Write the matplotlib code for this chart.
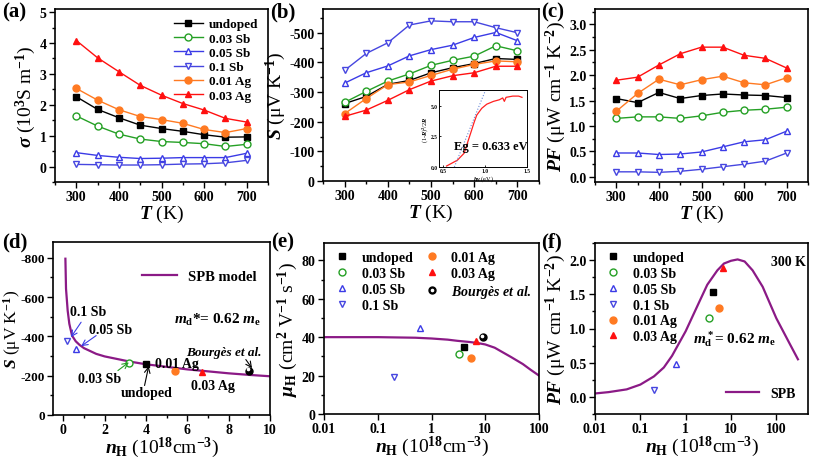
import matplotlib.pyplot as plt
import numpy as np
from matplotlib.ticker import MultipleLocator, FixedLocator, NullLocator

plt.rcParams['font.family'] = 'Liberation Serif'
plt.rcParams['font.weight'] = 'bold'
plt.rcParams['mathtext.fontset'] = 'custom'
plt.rcParams['mathtext.rm'] = 'Liberation Serif:bold'
plt.rcParams['mathtext.it'] = 'Liberation Serif:italic:bold'
plt.rcParams['mathtext.bf'] = 'Liberation Serif:bold'
plt.rcParams['axes.unicode_minus'] = False
plt.rcParams['axes.linewidth'] = 1.2

# samples
names = ['undoped', '0.03 Sb', '0.05 Sb', '0.1 Sb', '0.01 Ag', '0.03 Ag']
colors = ['black', '#25a025', '#3b3be6', '#4646e0', '#ff7a22', '#ff1010']
markers = ['s', 'o', '^', 'v', 'o', '^']
filled = [True, False, False, False, True, True]

temps = [300, 350, 400, 450, 500, 550, 600, 650, 700]
sigma = [
    [2.26, 1.85, 1.58, 1.34, 1.23, 1.14, 1.03, 0.95, 0.96],
    [1.64, 1.31, 1.05, 0.89, 0.81, 0.78, 0.74, 0.65, 0.72],
    [0.45, 0.36, 0.30, 0.26, 0.27, 0.29, 0.29, 0.29, 0.43],
    [0.07, 0.06, 0.05, 0.05, 0.06, 0.08, 0.09, 0.12, 0.20],
    [2.53, 2.15, 1.84, 1.62, 1.52, 1.40, 1.20, 1.10, 1.23],
    [4.08, 3.52, 3.07, 2.63, 2.31, 2.04, 1.83, 1.56, 1.44],
]
seebeck = [
    [-261, -285, -326, -339, -365, -382, -396, -413, -410],
    [-265, -302, -337, -361, -390, -407, -421, -456, -439],
    [-330, -365, -388, -422, -443, -458, -484, -501, -473],
    [-373, -430, -466, -526, -540, -537, -537, -517, -500],
    [-227, -278, -325, -334, -356, -377, -393, -405, -402],
    [-218, -239, -272, -308, -337, -355, -365, -387, -387],
]
pf = [
    [1.54, 1.46, 1.66, 1.54, 1.60, 1.63, 1.61, 1.60, 1.56],
    [1.15, 1.18, 1.18, 1.15, 1.20, 1.27, 1.31, 1.33, 1.37],
    [0.47, 0.47, 0.44, 0.45, 0.49, 0.59, 0.69, 0.73, 0.90],
    [0.10, 0.10, 0.09, 0.11, 0.15, 0.20, 0.25, 0.31, 0.47],
    [1.29, 1.64, 1.92, 1.81, 1.91, 1.98, 1.85, 1.81, 1.95],
    [1.90, 1.96, 2.20, 2.42, 2.55, 2.55, 2.39, 2.33, 2.14],
]

# inset of (b): absorption
hv = [0.54, 0.60, 0.67, 0.75, 0.79, 0.83, 0.87, 0.90, 0.96, 1.02, 1.10, 1.17,
      1.21, 1.23, 1.25, 1.33, 1.40, 1.44]
absorb = [0.08, 0.30, 0.56, 1.13, 1.98, 2.82, 3.67, 4.24, 4.80, 5.14, 5.37, 5.50,
          5.65, 5.37, 5.70, 5.80, 5.80, 5.70]
eg_x = [0.633, 1.0]
eg_y = [0.0, 6.2]

# 300 K room-temperature data
n_h = [4.0, 3.2, 0.6, 0.2, 5.4, 6.7]
s_300 = [-260, -264, -335, -376, -226, -218]
mu_h = [34.8, 31.3, 44.9, 19.2, 29.2, 37.9]
pf_300 = [1.54, 1.15, 0.48, 0.10, 1.30, 1.89]
bourges_n = 9.0
bourges_s = -226
bourges_mu = 40.0

# SPB model curves
spb_n_s = [0.1, 0.13, 0.21, 0.29, 0.42, 0.6, 0.78, 1.0, 1.59, 2.0, 3.2, 4.0, 5.0,
           6.0, 7.0, 8.0, 9.0, 10.0]
spb_s = [-795, -642, -531, -464, -404, -375, -357, -340, -311, -298, -272, -258,
         -245, -232, -222, -212, -204, -197]
spb_n_mu = [0.01, 0.1, 0.5, 1, 2, 3, 5, 7, 10, 15, 20, 30, 50, 70, 100]
spb_mu = [40.0, 40.0, 39.7, 39.3, 38.7, 38.1, 37.5, 37.0, 36.2, 34.5, 32.5, 29.7,
          26.0, 23.0, 20.0]
spb_n_pf = [0.01, 0.02, 0.05, 0.1, 0.2, 0.33, 0.5, 1, 2, 3, 5, 7, 10, 14, 20, 30,
            50, 100, 200, 300]
spb_pf = [0.05, 0.07, 0.11, 0.18, 0.30, 0.43, 0.60, 0.96, 1.39, 1.64, 1.85, 1.95,
          1.99, 2.01, 1.98, 1.85, 1.61, 1.15, 0.77, 0.55]

spb_color = '#8b1a86'
fs_tick = 10
fs_lab = 14
ms = 5

fig = plt.figure(figsize=(8.13, 4.60), dpi=100)
W, H = 813.0, 460.0


def make_ax(x0, x1, y0, y1):
    return fig.add_axes([x0 / W, 1 - y1 / H, (x1 - x0) / W, (y1 - y0) / H])


def style(ax):
    ax.tick_params(which='both', direction='out', top=False, right=False,
                   labelsize=fs_tick, width=1.0, pad=2)
    ax.tick_params(which='major', length=4)
    ax.tick_params(which='minor', length=2.2)
    for lab in ax.get_xticklabels() + ax.get_yticklabels():
        lab.set_fontweight('bold')


def mstyle(i):
    return dict(color=colors[i], marker=markers[i], markersize=ms,
                markerfacecolor=colors[i] if filled[i] else 'white',
                markeredgecolor=colors[i], markeredgewidth=1.0)


def arrow(ax, start, end, color):
    ax.annotate('', xy=end, xytext=start,
                arrowprops=dict(arrowstyle='->', color=color, lw=0.8,
                                shrinkA=0, shrinkB=0))


tlabel = r'$T$ (K)'

# (a)
ax = make_ax(55, 268, 10, 183)
for i in range(6):
    ax.plot(temps, sigma[i], lw=1.0, label=names[i], **mstyle(i))
ax.set_xlim(250, 750)
ax.set_ylim(-0.5, 5.1)
ax.xaxis.set_major_locator(MultipleLocator(100))
ax.xaxis.set_minor_locator(MultipleLocator(50))
ax.yaxis.set_major_locator(MultipleLocator(1))
ax.yaxis.set_minor_locator(MultipleLocator(0.5))
ax.set_xlabel(tlabel, fontsize=fs_lab, labelpad=0)
ax.set_ylabel(r'$\sigma$ (10$^3$S m$^{-1}$)', fontsize=fs_lab, labelpad=1)
ax.legend(loc='upper right', frameon=False, handlelength=2.2,
          labelspacing=0.15, borderaxespad=0.3, handletextpad=0.5,
          prop={'weight': 'bold', 'size': 9.5})
style(ax)

# (b)
ax = make_ax(323, 539, 10, 182)
for i in range(6):
    ax.plot(temps, seebeck[i], lw=1.0, **mstyle(i))
ax.set_xlim(250, 750)
ax.set_ylim(0, -580)
ax.xaxis.set_major_locator(MultipleLocator(100))
ax.xaxis.set_minor_locator(MultipleLocator(50))
ax.yaxis.set_major_locator(MultipleLocator(100))
ax.yaxis.set_minor_locator(MultipleLocator(50))
ax.set_xlabel(tlabel, fontsize=fs_lab, labelpad=0)
ax.set_ylabel(r'$S$ (μV K$^{-1}$)', fontsize=fs_lab, labelpad=1)
style(ax)

ins = make_ax(439, 527, 91, 168)
ins.plot(hv, absorb, color='#ff2020', lw=0.9)
ins.plot(eg_x, eg_y, color='#6a8ad8', lw=0.8, ls=':')
ins.set_xlim(0.45, 1.5)
ins.set_ylim(0, 6.3)
ins.xaxis.set_major_locator(FixedLocator([0.5, 1.0, 1.5]))
ins.yaxis.set_major_locator(FixedLocator([0.0, 2.5, 5.0]))
ins.set_xticklabels(['0.5', '1.0', '1.5'])
ins.set_yticklabels(['0.0', '2.5', '5.0'])
ins.tick_params(labelsize=4, length=1.5, width=0.6, direction='in', pad=1)
for sp in ins.spines.values():
    sp.set_linewidth(0.7)
ins.set_xlabel(r'$h\nu$ (eV)', fontsize=4.5, labelpad=0)
ins.set_ylabel(r'(1-$R$)$^2$/2$R$', fontsize=4.5, labelpad=0)
ins.text(1.07, 1.75, 'Eg = 0.633 eV', fontsize=9, fontweight='bold',
         ha='center', va='center')

# (c)
ax = make_ax(595, 808, 10, 183)
for i in range(6):
    ax.plot(temps, pf[i], lw=1.0, **mstyle(i))
ax.set_xlim(250, 750)
ax.set_ylim(-0.1, 3.3)
ax.xaxis.set_major_locator(MultipleLocator(100))
ax.xaxis.set_minor_locator(MultipleLocator(50))
ax.yaxis.set_major_locator(MultipleLocator(0.5))
ax.yaxis.set_minor_locator(MultipleLocator(0.25))
ax.yaxis.set_major_formatter(plt.FormatStrFormatter('%.1f'))
ax.set_xlabel(tlabel, fontsize=fs_lab, labelpad=0)
ax.set_ylabel(r'$PF$ (μW cm$^{-1}$ K$^{-2}$)', fontsize=fs_lab, labelpad=1)
style(ax)

nlabel = r'$n_\mathrm{H}$ (10$^{18}$cm$^{-3}$)'

# (d)
ax = make_ax(53, 270, 243, 416)
ax.plot(spb_n_s, spb_s, color=spb_color, lw=1.6, label='SPB model')
for i in range(6):
    ax.plot([n_h[i]], [s_300[i]], ls='none', **mstyle(i))
ax.plot([bourges_n], [bourges_s], ls='none', marker='o', color='black', ms=ms)
ax.plot([bourges_n - 0.08], [bourges_s - 8], ls='none', marker='o', color='white', ms=1.6)
ax.set_xlim(-0.5, 10)
ax.set_ylim(0, -880)
ax.xaxis.set_major_locator(MultipleLocator(2))
ax.xaxis.set_minor_locator(MultipleLocator(1))
ax.yaxis.set_major_locator(MultipleLocator(200))
ax.yaxis.set_minor_locator(MultipleLocator(100))
ax.set_xlabel(nlabel, fontsize=fs_lab, labelpad=-1)
ax.set_ylabel(r'$S$ (μV K$^{-1}$)', fontsize=12.5)
ax.yaxis.set_label_coords(-0.14, 0.5)
ax.legend(loc='center right', bbox_to_anchor=(1.0, 0.80), frameon=False,
          handlelength=2.4, prop={'weight': 'bold', 'size': 10.5})
ax.text(0.76, 0.555, r'$m_\mathrm{d}$*= 0.62 $m_\mathrm{e}$', transform=ax.transAxes,
        fontsize=11, ha='center', va='center')
fsd = 10
ax.text(1.18, -528, '0.1 Sb', fontsize=fsd, ha='center', va='center')
arrow(ax, (0.86, -472), (0.37, -396), '#3b3be6')
ax.text(2.28, -435, '0.05 Sb', fontsize=fsd, ha='center', va='center')
arrow(ax, (1.59, -404), (0.86, -350), '#3b3be6')
ax.text(1.75, -187, '0.03 Sb', fontsize=fsd, ha='center', va='center')
arrow(ax, (2.64, -226), (3.17, -268), '#25a025')
ax.text(4.01, -116, 'undoped', fontsize=fsd, ha='center', va='center')
arrow(ax, (3.93, -150), (4.13, -248), 'black')
ax.text(5.5, -262, '0.01 Ag', fontsize=fsd, ha='center', va='center')
ax.text(7.25, -150, '0.03 Ag', fontsize=fsd, ha='center', va='center')
ax.text(7.75, -318, 'Bourgès et al.', fontsize=9.5, ha='center', va='center',
        style='italic')
arrow(ax, (8.83, -282), (9.13, -238), 'black')
style(ax)
ax.tick_params(axis='y', labelsize=9.5, pad=1.5)

# (e)
ax = make_ax(324, 539, 244, 415)
ax.plot(spb_n_mu, spb_mu, color=spb_color, lw=1.6)
hands = []
for i in range(6):
    h, = ax.plot([n_h[i]], [mu_h[i]], ls='none', label=names[i], **mstyle(i))
    hands.append(h)
hb, = ax.plot([bourges_n], [bourges_mu], ls='none', marker='o', color='black', ms=ms)
hw, = ax.plot([bourges_n * 0.97], [bourges_mu + 0.6], ls='none', marker='o', color='white', ms=1.6)
ax.set_xscale('log')
ax.set_xlim(0.01, 100)
ax.set_ylim(0, 89)
ax.xaxis.set_major_locator(FixedLocator([0.01, 0.1, 1, 10, 100]))
ax.xaxis.set_minor_locator(NullLocator())
ax.set_xticklabels(['0.01', '0.1', '1', '10', '100'])
ax.yaxis.set_major_locator(MultipleLocator(20))
ax.yaxis.set_minor_locator(MultipleLocator(10))
ax.set_xlabel(nlabel, fontsize=fs_lab, labelpad=-1)
ax.set_ylabel(r'$\mu_\mathrm{H}$ (cm$^2$ V$^{-1}$ s$^{-1}$)', fontsize=fs_lab, labelpad=1)
leg_h = hands + [(hb, hw)]
leg_l = names + [r'$Bourgès\ et\ al.$']
ax.legend(leg_h, leg_l, loc='upper left', ncol=2, frameon=False, handlelength=0.8,
          handletextpad=1.0, columnspacing=0.9, labelspacing=0.2,
          borderaxespad=0.2, bbox_to_anchor=(0.02, 1.0),
          prop={'weight': 'bold', 'size': 10})
style(ax)

# (f)
ax = make_ax(595, 808, 244, 415)
hs, = ax.plot(spb_n_pf, spb_pf, color=spb_color, lw=1.6, label='SPB')
hands = []
for i in range(6):
    h, = ax.plot([n_h[i]], [pf_300[i]], ls='none', label=names[i], **mstyle(i))
    hands.append(h)
ax.set_xscale('log')
ax.set_xlim(0.01, 500)
ax.set_ylim(-0.25, 2.25)
ax.xaxis.set_major_locator(FixedLocator([0.01, 0.1, 1, 10, 100]))
ax.xaxis.set_minor_locator(NullLocator())
ax.set_xticklabels(['0.01', '0.1', '1', '10', '100'])
ax.yaxis.set_major_locator(MultipleLocator(0.5))
ax.yaxis.set_minor_locator(MultipleLocator(0.25))
ax.yaxis.set_major_formatter(plt.FormatStrFormatter('%.1f'))
ax.set_xlabel(nlabel, fontsize=fs_lab, labelpad=-1)
ax.set_ylabel(r'$PF$ (μW cm$^{-1}$ K$^{-2}$)', fontsize=fs_lab, labelpad=1)
leg1 = ax.legend(hands, names, loc='upper left', frameon=False, handlelength=0.8,
                 handletextpad=1.0, labelspacing=0.2, borderaxespad=0.2,
                 bbox_to_anchor=(0.02, 1.0), prop={'weight': 'bold', 'size': 10})
ax.add_artist(leg1)
ax.legend([hs], ['SPB'], loc='lower right', frameon=False, handlelength=2.4,
          bbox_to_anchor=(1.0, 0.01), prop={'weight': 'bold', 'size': 10})
ax.text(0.91, 0.89, '300 K', transform=ax.transAxes, fontsize=10, ha='center', va='center')
ax.text(12, 0.86, r'$m_\mathrm{d}^*$= 0.62 $m_\mathrm{e}$', fontsize=11,
        ha='center', va='center')
style(ax)

# panel labels
for lab, x, y in [('(a)', 2, 2), ('(b)', 270, 2), ('(c)', 541, 2),
                  ('(d)', 2, 232), ('(e)', 271, 232), ('(f)', 541, 232)]:
    fig.text(x / W, 1 - y / H, lab, fontsize=15, fontweight='bold', va='top', ha='left')

fig.savefig('out.png', dpi=100)
